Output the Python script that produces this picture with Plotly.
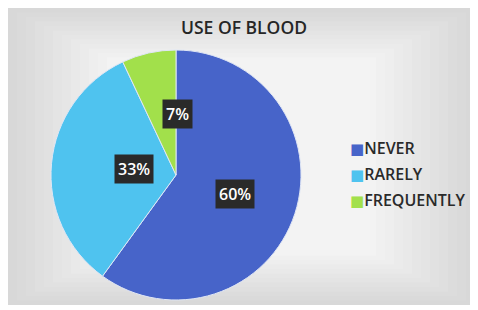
import math
import plotly.graph_objects as go

categories = ["NEVER", "RARELY", "FREQUENTLY"]
values = [60, 33, 7]
colors = ["#4764c9", "#4fc3ef", "#a2e04b"]
title_text = "USE OF BLOOD"

# page body has an 8px margin, so the figure starts at (8, 8) in the window
OFF = 8
W, H = 470, 302


def px_x(x):
    return (x - OFF) / W


def px_y(y):
    return (H - (y - OFF)) / H


dom_x = [px_x(51), px_x(301)]
dom_y = [px_y(300), px_y(50)]

fig = go.Figure()
fig.add_trace(go.Pie(
    labels=categories,
    values=values,
    sort=False,
    direction="clockwise",
    rotation=0,
    marker=dict(colors=colors, line=dict(color="#dfe6f5", width=1)),
    textinfo="none",
    hoverinfo="label+percent",
    domain=dict(x=dom_x, y=dom_y),
    showlegend=False,
))

# percentage labels in dark boxes, placed at half radius along each slice's mid-angle
cx = (dom_x[0] + dom_x[1]) / 2 * W
cy = (dom_y[0] + dom_y[1]) / 2 * H
r = min((dom_x[1] - dom_x[0]) * W, (dom_y[1] - dom_y[0]) * H) / 2
total = sum(values)
cum = 0
for v in values:
    mid = (cum + v / 2) / total * 2 * math.pi
    cum += v
    ax = cx + 0.5 * r * math.sin(mid)
    ay = cy + 0.5 * r * math.cos(mid)
    fig.add_annotation(
        x=ax / W, y=ay / H, xref="paper", yref="paper",
        text=f"{round(v / total * 100)}%", showarrow=False,
        font=dict(family="Open Sans, sans-serif", size=16, color="white", weight=600),
        bgcolor="#2a2a2a", borderpad=3,
    )

# legend drawn as text: coloured square + category name
for i, (cat, col) in enumerate(zip(categories, colors)):
    fig.add_annotation(
        x=px_x(348), y=px_y(148 + 26 * i), xref="paper", yref="paper",
        xanchor="left", yanchor="middle", showarrow=False,
        text=f"<span style='color:{col};font-size:15px;font-family:DejaVu Sans'>■</span>{cat}",
        font=dict(family="Open Sans, sans-serif", size=16, color="#2a2a2a", weight=600),
    )

# soft radial-like grey background built from nested rectangles
shapes = []
steps = 12
x0, x1, y0, y1 = 8, 475, 8, 305
for i in range(steps):
    t = i / (steps - 1)
    g = int(0xd8 + (0xf3 - 0xd8) * t)
    inset_x = 9 * i
    inset_y = 4.5 * i
    shapes.append(dict(
        type="rect", xref="paper", yref="paper",
        x0=px_x(x0 + inset_x), x1=px_x(x1 - inset_x),
        y0=px_y(y1 - inset_y), y1=px_y(y0 + inset_y),
        fillcolor=f"rgb({g},{g},{g})", line=dict(width=0), layer="below",
    ))

fig.update_layout(
    width=W, height=H,
    margin=dict(l=0, r=0, t=0, b=0),
    paper_bgcolor="white",
    plot_bgcolor="white",
    title=dict(text=title_text, x=px_x(244), y=px_y(28), xanchor="center", yanchor="middle",
               font=dict(family="Open Sans, sans-serif", size=17.5, color="#262626", weight=600)),
    shapes=shapes,
)

fig.write_html("out.html")
